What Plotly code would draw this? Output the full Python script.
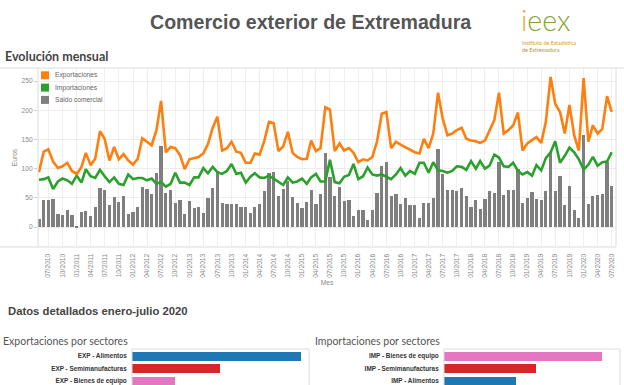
import plotly.graph_objects as go
import pandas as pd

W, H = 624, 385

# ---------------- data ----------------
meses = pd.date_range("2010-05-01", periods=123, freq="MS")

exportaciones = [
    94, 129, 133, 112, 101, 104, 110, 96, 91, 103,
    127, 106, 117, 164, 151, 114, 137, 116, 125, 114,
    107, 117, 152, 146, 140, 166, 216, 128, 137, 135,
    123, 99, 116, 118, 120, 126, 142, 170, 189, 131,
    135, 146, 129, 127, 110, 110, 126, 124, 147, 180,
    178, 130, 138, 163, 127, 120, 116, 117, 148, 130,
    135, 205, 201, 130, 143, 131, 135, 127, 111, 116,
    114, 120, 146, 194, 197, 135, 146, 141, 137, 133,
    128, 126, 151, 135, 160, 230, 186, 157, 160, 166,
    170, 151, 148, 147, 144, 148, 166, 183, 230, 160,
    166, 174, 196, 131, 143, 148, 154, 144, 180, 257,
    211, 197, 160, 209, 157, 131, 255, 146, 174, 160,
    168, 224, 197,
]
importaciones = [
    81, 82, 85, 65, 78, 83, 80, 74, 88, 76,
    99, 87, 84, 98, 87, 77, 85, 74, 72, 90,
    82, 84, 84, 80, 83, 74, 77, 69, 74, 93,
    76, 76, 72, 85, 85, 101, 92, 103, 94, 91,
    96, 108, 91, 93, 76, 86, 92, 85, 84, 88,
    83, 77, 72, 85, 76, 78, 83, 74, 85, 91,
    78, 78, 115, 77, 75, 86, 89, 108, 82, 87,
    102, 90, 88, 90, 86, 82, 90, 101, 88, 96,
    91, 110, 110, 93, 111, 97, 96, 93, 96, 104,
    103, 98, 113, 100, 113, 100, 105, 124, 119, 104,
    103, 110, 96, 90, 94, 88, 106, 97, 118, 128,
    147, 110, 122, 136, 128, 116, 98, 107, 120, 105,
    111, 112, 128,
]
saldo = [
    14, 47, 47, 48, 23, 21, 29, 21, 2, 26,
    28, 19, 34, 66, 64, 38, 52, 43, 53, 22,
    26, 34, 68, 65, 57, 92, 139, 59, 63, 42,
    47, 23, 44, 33, 35, 24, 50, 67, 96, 41,
    39, 39, 39, 34, 34, 24, 34, 39, 62, 92,
    95, 53, 65, 78, 51, 42, 33, 43, 63, 39,
    57, 127, 86, 53, 68, 45, 46, 19, 29, 29,
    12, 30, 58, 104, 111, 53, 56, 40, 49, 37,
    37, 16, 41, 42, 49, 133, 90, 64, 64, 62,
    67, 53, 35, 47, 31, 48, 61, 59, 111, 54,
    64, 64, 100, 41, 49, 60, 48, 47, 62, 128,
    62, 87, 38, 71, 30, 15, 158, 39, 53, 55,
    56, 111, 70,
]
y_ticks = [0, 50, 100, 150, 200, 250]

exp_sectores = ["EXP - Alimentos", "EXP - Semimanufacturas", "EXP - Bienes de equipo"]
exp_valores = [720, 375, 183]
imp_sectores = ["IMP - Bienes de equipo", "IMP - Semimanufacturas", "IMP - Alimentos"]
imp_valores = [233, 136, 106]

# ---------------- colours / helpers ----------------
C_EXP, C_IMP, C_SAL = "#ff7f0e", "#2ca02c", "#7f7f7f"
C_BLUE, C_RED, C_PINK = "#1f77b4", "#d62728", "#e377c2"
sector_color = {"Alimentos": C_BLUE, "Semimanufacturas": C_RED, "Bienes de equipo": C_PINK}


def px(x):
    return x / W


def py(y):
    return 1 - y / H


AX_FONT = "Liberation Sans, Arial, sans-serif"
TB_FONT = "Lato, Open Sans, sans-serif"
GRAY = "#8a8a8a"

fig = go.Figure()
fig.add_trace(go.Bar(x=meses, y=saldo, name="Saldo comercial", marker_color=C_SAL,
                     marker_line_width=0, width=21 * 86400000, xaxis="x", yaxis="y"))
fig.add_trace(go.Scatter(x=meses, y=importaciones, name="Importaciones", mode="lines",
                         line=dict(color=C_IMP, width=2.6), xaxis="x", yaxis="y"))
fig.add_trace(go.Scatter(x=meses, y=exportaciones, name="Exportaciones", mode="lines",
                         line=dict(color=C_EXP, width=2.6), xaxis="x", yaxis="y"))

fig.add_trace(go.Bar(y=exp_sectores, x=exp_valores, orientation="h", width=0.72,
                     marker_color=[sector_color[s.split(" - ")[1]] for s in exp_sectores],
                     marker_line_width=0, xaxis="x2", yaxis="y2"))
fig.add_trace(go.Bar(y=imp_sectores, x=imp_valores, orientation="h", width=0.72,
                     marker_color=[sector_color[s.split(" - ")[1]] for s in imp_sectores],
                     marker_line_width=0, xaxis="x3", yaxis="y3"))

small = dict(family=AX_FONT, size=6.7, color=GRAY)
cat_font = dict(family=AX_FONT, size=6.4, color="#333", weight="bold")

fig.update_layout(
    width=W, height=H, autosize=False,
    margin=dict(l=0, r=0, t=0, b=0),
    paper_bgcolor="white", plot_bgcolor="white",
    showlegend=False, bargap=0,
    xaxis=dict(domain=[px(38), px(616)], type="date",
               range=["2010-04-25", "2020-07-29"],
               tick0="2010-07-01", dtick="M3", tickformat="%m/%Y", tickangle=-90,
               tickfont=small, ticks="outside", ticklen=3, tickcolor="rgba(0,0,0,0)",
               showgrid=True, gridcolor="#efefef", gridwidth=1, zeroline=False,
               showline=False, automargin=False, anchor="y",
               title=dict(text="Mes", font=small, standoff=3)),
    yaxis=dict(domain=[py(247), py(68)], range=[-34.2, 272.3],
               tickvals=y_ticks, ticksuffix="M", tickfont=small,
               ticks="outside", ticklen=3, tickcolor="#cfcfcf",
               showgrid=True, gridcolor="#ececec", zeroline=False,
               showline=False, automargin=False, anchor="x",
               title=dict(text="Euros", font=small, standoff=3)),
    xaxis2=dict(domain=[px(132), px(309)], range=[0, 755], showticklabels=False,
                showgrid=False, zeroline=False, anchor="y2", automargin=False),
    yaxis2=dict(domain=[0, py(349)], type="category", categoryorder="array",
                categoryarray=exp_sectores, range=[2.304, -0.576],
                tickfont=cat_font, ticks="outside", ticklen=3, tickcolor="rgba(0,0,0,0)",
                showgrid=False, zeroline=False, anchor="x2", automargin=False),
    xaxis3=dict(domain=[px(444), px(620)], range=[0, 260], showticklabels=False,
                showgrid=False, zeroline=False, anchor="y3", automargin=False),
    yaxis3=dict(domain=[0, py(349)], type="category", categoryorder="array",
                categoryarray=imp_sectores, range=[2.304, -0.576],
                tickfont=cat_font, ticks="outside", ticklen=3, tickcolor="rgba(0,0,0,0)",
                showgrid=False, zeroline=False, anchor="x3", automargin=False),
)

LINE = "#dcdcdc"
shapes = [
    dict(type="line", xref="paper", yref="paper", x0=0, x1=1, y0=py(68), y1=py(68),
         line=dict(color=LINE, width=1)),
    dict(type="line", xref="paper", yref="paper", x0=0, x1=px(616), y0=py(247), y1=py(247),
         line=dict(color=LINE, width=1)),
    dict(type="line", xref="paper", yref="paper", x0=px(38), x1=px(38), y0=py(247), y1=py(68),
         line=dict(color=LINE, width=1)),
    dict(type="line", xref="paper", yref="paper", x0=px(616), x1=px(616), y0=py(247), y1=py(68),
         line=dict(color=LINE, width=1)),
    dict(type="rect", xref="paper", yref="paper", x0=px(132), x1=px(309), y0=py(420), y1=py(349),
         line=dict(color=LINE, width=1)),
    dict(type="rect", xref="paper", yref="paper", x0=px(444), x1=px(620), y0=py(420), y1=py(349),
         line=dict(color=LINE, width=1)),
]
annotations = []
legend_items = [("Exportaciones", C_EXP), ("Importaciones", C_IMP), ("Saldo comercial", C_SAL)]
for k, (name, col) in enumerate(legend_items):
    yc = 75.3 + 12.3 * k
    shapes.append(dict(type="rect", xref="paper", yref="paper", x0=px(41), x1=px(49),
                       y0=py(yc + 4), y1=py(yc - 4), fillcolor=col, line=dict(width=0)))
    annotations.append(dict(text=name, x=px(52.5), y=py(yc), xref="paper", yref="paper",
                            xanchor="left", yanchor="middle", showarrow=False,
                            font=dict(family=AX_FONT, size=6.7, color="#666")))


def label(text, x, y, size, color="#444", family=TB_FONT, weight="normal", xanchor="left",
          align="left"):
    annotations.append(dict(text=text, x=px(x), y=py(y), xref="paper", yref="paper",
                            xanchor=xanchor, yanchor="middle", showarrow=False, align=align,
                            borderpad=0,
                            font=dict(family=family, size=size, color=color, weight=weight)))


label("Comercio exterior de Extremadura", 311, 22, 19.6, "#555", AX_FONT, "bold", "center")
label("<span style='color:#eaa43c'>i</span><span style='color:#86a52e'>eex</span>",
      520, 20, 28.5, family="Lato, sans-serif", weight=300)
label("<span style='color:#d99a3a'>Instituto de Estadística</span><br>"
      "<span style='color:#b48e3c'>de Extremadura</span>",
      521, 46.5, 5.4, "#d99a3a", TB_FONT)
label("Evolución mensual", 4, 57, 12.5, "#444", TB_FONT, "bold")
label("Datos detallados enero-julio 2020", 7, 311, 11.3, "#444", AX_FONT, "bold")
label("Exportaciones por sectores", 2, 341, 10.5, "#555", TB_FONT)
label("Importaciones por sectores", 314, 341, 10.5, "#555", TB_FONT)

fig.update_layout(shapes=shapes, annotations=annotations)
fig.write_html("out.html", config={"displayModeBar": False},
               post_script="document.body.style.margin='0';")
